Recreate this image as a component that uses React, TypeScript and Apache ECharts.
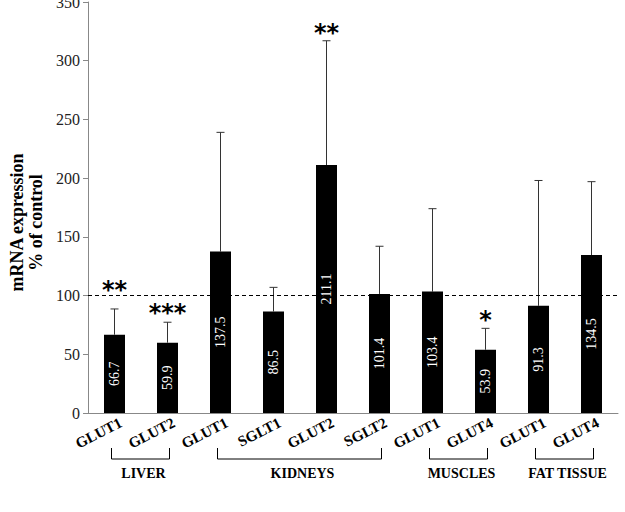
import React, { useEffect, useRef } from "react";
import * as echarts from "echarts";

const categories = ["GLUT1", "GLUT2", "GLUT1", "SGLT1", "GLUT2", "SGLT2", "GLUT1", "GLUT4", "GLUT1", "GLUT4"];
const means = [66.7, 59.9, 137.5, 86.5, 211.1, 101.4, 103.4, 53.9, 91.3, 134.5];
const errorTops = [88.6, 77.3, 239, 107, 317, 142, 174, 72.1, 198, 197];
const sigLabels = ["**", "***", "", "", "**", "", "", "*", "", ""];
const sigAnchors = [107.3, 87.7, 0, 0, 326, 0, 0, 81.8, 0, 0];
const groupNames = ["LIVER", "KIDNEYS", "MUSCLES", "FAT TISSUE"];
const groupFrom = [0, 2, 6, 8];
const groupTo = [1, 5, 7, 9];
const controlLevel = 100;
const yTicks = { min: 0, max: 350, interval: 50 };

const SERIF = "'Liberation Serif', 'Times New Roman', serif";

export default function App() {
  const ref = useRef<HTMLDivElement>(null);
  useEffect(() => {
    if (!ref.current) return;
    const chart = echarts.init(ref.current, undefined, { renderer: "svg" });
    const option: any = {
      animation: false,
      textStyle: { fontFamily: SERIF },
      grid: { left: 88, right: 7, top: 2, bottom: 99, containLabel: false, outerBoundsMode: "none" },
      xAxis: {
        type: "category",
        data: categories,
        axisLine: { lineStyle: { color: "#888", width: 1 } },
        axisTick: { show: false },
        axisLabel: { show: false },
      },
      yAxis: {
        type: "value",
        min: yTicks.min,
        max: yTicks.max,
        interval: yTicks.interval,
        splitLine: { show: false },
        axisLine: { show: true, lineStyle: { color: "#888", width: 1 } },
        axisTick: { show: true, length: 5, lineStyle: { color: "#888" } },
        axisLabel: { color: "#222", fontFamily: SERIF, fontSize: 16, margin: 8 },
        name: "mRNA expression\n% of control",
        nameLocation: "middle",
        nameGap: 40,
        nameTextStyle: {
          fontFamily: SERIF,
          fontWeight: "bold",
          fontSize: 18,
          color: "#000",
          lineHeight: 19,
          padding: [0, 30, 0, 0],
        },
      },
      series: [
        {
          type: "bar",
          data: means,
          barWidth: 21,
          itemStyle: { color: "#000" },
          z: 2,
          label: {
            show: true,
            position: "inside",
            rotate: 90,
            color: "#fff",
            fontFamily: SERIF,
            fontSize: 14,
            formatter: (p: any) => String(p.value),
          },
          markLine: {
            silent: true,
            symbol: "none",
            label: { show: false },
            lineStyle: { color: "#000", type: [4, 3], width: 1 },
            data: [{ yAxis: controlLevel }],
          },
        },
        {
          type: "custom",
          z: 1,
          clip: false,
          encode: { x: 0, y: [1, 2] },
          data: means.map((m, i) => [i, m, errorTops[i]]),
          renderItem: (params: any, api: any) => {
            const i = api.value(0);
            const lo = api.coord([i, api.value(1)]);
            const hi = api.coord([i, api.value(2)]);
            const st = { stroke: "#333", lineWidth: 1 };
            return {
              type: "group",
              children: [
                { type: "line", shape: { x1: lo[0], y1: lo[1], x2: hi[0], y2: hi[1] }, style: st },
                { type: "line", shape: { x1: hi[0] - 4, y1: hi[1], x2: hi[0] + 4, y2: hi[1] }, style: st },
              ],
            };
          },
        },
        {
          type: "custom",
          z: 3,
          clip: false,
          encode: { x: 0, y: 1 },
          data: sigAnchors.map((v, i) => [i, v]),
          renderItem: (params: any, api: any) => {
            const i = api.value(0);
            const txt = sigLabels[i];
            if (!txt) return null;
            const p = api.coord([i, api.value(1)]);
            return {
              type: "text",
              x: p[0],
              y: p[1] + 3,
              style: {
                text: txt,
                font: "bold 24px 'DejaVu Sans', sans-serif",
                fill: "#000",
                align: "center",
                verticalAlign: "middle",
              },
            };
          },
        },
        {
          type: "custom",
          z: 3,
          clip: false,
          encode: { x: 0, y: 1 },
          data: categories.map((c, i) => [i, 0]),
          renderItem: (params: any, api: any) => {
            const i = api.value(0);
            const p = api.coord([i, 0]);
            return {
              type: "text",
              x: p[0] + 3,
              y: p[1] + 2,
              rotation: (27 * Math.PI) / 180,
              style: {
                text: categories[i],
                font: `bold 15px ${SERIF}`,
                fill: "#000",
                align: "right",
                verticalAlign: "top",
              },
            };
          },
        },
        {
          type: "custom",
          z: 3,
          clip: false,
          encode: { x: [0, 1], y: 2 },
          data: groupNames.map((g, k) => [groupFrom[k], groupTo[k], 0]),
          renderItem: (params: any, api: any) => {
            const k = params.dataIndex;
            const a = api.coord([api.value(0), 0]);
            const b = api.coord([api.value(1), 0]);
            const x1 = a[0] - 3;
            const x2 = b[0] + 2;
            const yTop = a[1] + 35;
            const yBot = a[1] + 46;
            return {
              type: "group",
              children: [
                {
                  type: "polyline",
                  shape: { points: [[x1, yTop], [x1, yBot], [x2, yBot], [x2, yTop]] },
                  style: { stroke: "#000", lineWidth: 1, fill: null },
                },
                {
                  type: "text",
                  x: (x1 + x2) / 2 + 3,
                  y: a[1] + 60,
                  style: {
                    text: groupNames[k],
                    font: `bold 14px ${SERIF}`,
                    fill: "#000",
                    align: "center",
                    verticalAlign: "middle",
                  },
                },
              ],
            };
          },
        },
      ],
    };
    chart.setOption(option);
    return () => chart.dispose();
  }, []);
  return (
    <div
      ref={ref}
      style={{ position: "fixed", left: 0, top: 0, width: 625, height: 512, background: "#fff" }}
    />
  );
}
